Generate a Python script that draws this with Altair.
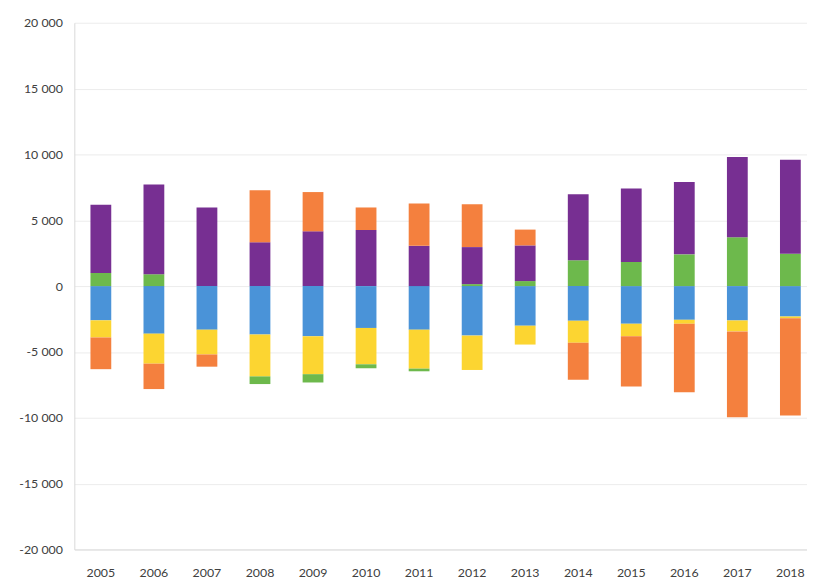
import altair as alt
import pandas as pd

years = [str(y) for y in range(2005, 2019)]

blue = [-2600, -3610, -3310, -3680, -3810, -3180, -3310, -3760, -3010, -2630, -2860, -2560, -2610, -2310]
yellow = [-1300, -2280, -1880, -3180, -2880, -2760, -2960, -2610, -1430, -1680, -950, -300, -830, -130]
green = [1000, 900, 0, -580, -630, -300, -200, 150, 380, 1960, 1830, 2410, 3710, 2460]
purple = [5170, 6820, 5970, 3330, 4160, 4260, 3060, 2810, 2710, 5010, 5590, 5490, 6090, 7140]
orange = [-2410, -1930, -930, 3940, 2980, 1710, 3210, 3260, 1200, -2810, -3810, -5210, -6520, -7390]

series_names = ["blue", "yellow", "green", "purple", "orange"]
series_values = [blue, yellow, green, purple, orange]
series_colors = ["#4A93D8", "#FCD531", "#6DB94C", "#772F92", "#F4803E"]

rows = []
for rank, (name, vals) in enumerate(zip(series_names, series_values)):
    for yr, v in zip(years, vals):
        rows.append({"year": yr, "series": name, "value": v, "rank": rank})
df = pd.DataFrame(rows)

y_ticks = list(range(-20000, 20001, 5000))

chart = alt.Chart(df).mark_bar(size=21).encode(
    x=alt.X(
        "year:N",
        sort=years,
        scale=alt.Scale(range=[0, 750], paddingInner=0, paddingOuter=0),
        axis=alt.Axis(
            title=None, labelAngle=0, ticks=False, domainColor="#d9d9d9",
            labelFont="Lato", labelFontSize=12.5, labelColor="#404040", labelPadding=17,
        ),
    ),
    y=alt.Y(
        "value:Q",
        stack="zero",
        scale=alt.Scale(domain=[-20000, 20000], nice=False),
        axis=alt.Axis(
            title=None, values=y_ticks, ticks=False, domainColor="#d9d9d9",
            gridColor="#ececec", labelFont="Lato", labelFontSize=12.5, labelColor="#404040",
            labelPadding=12,
            labelExpr="replace(replace(format(datum.value, ','), ',', ' '), '\u2212', '-')",
        ),
    ),
    color=alt.Color(
        "series:N",
        scale=alt.Scale(domain=series_names, range=series_colors),
        legend=None,
    ),
    order=alt.Order("rank:Q"),
).properties(
    width=740,
    height=532,
    autosize=alt.AutoSizeParams(type="none"),
    padding={"left": 67, "top": 12, "right": 0, "bottom": 30},
).configure_view(stroke=None)

chart.save("out.html", embed_options={"renderer": "svg", "actions": False})
